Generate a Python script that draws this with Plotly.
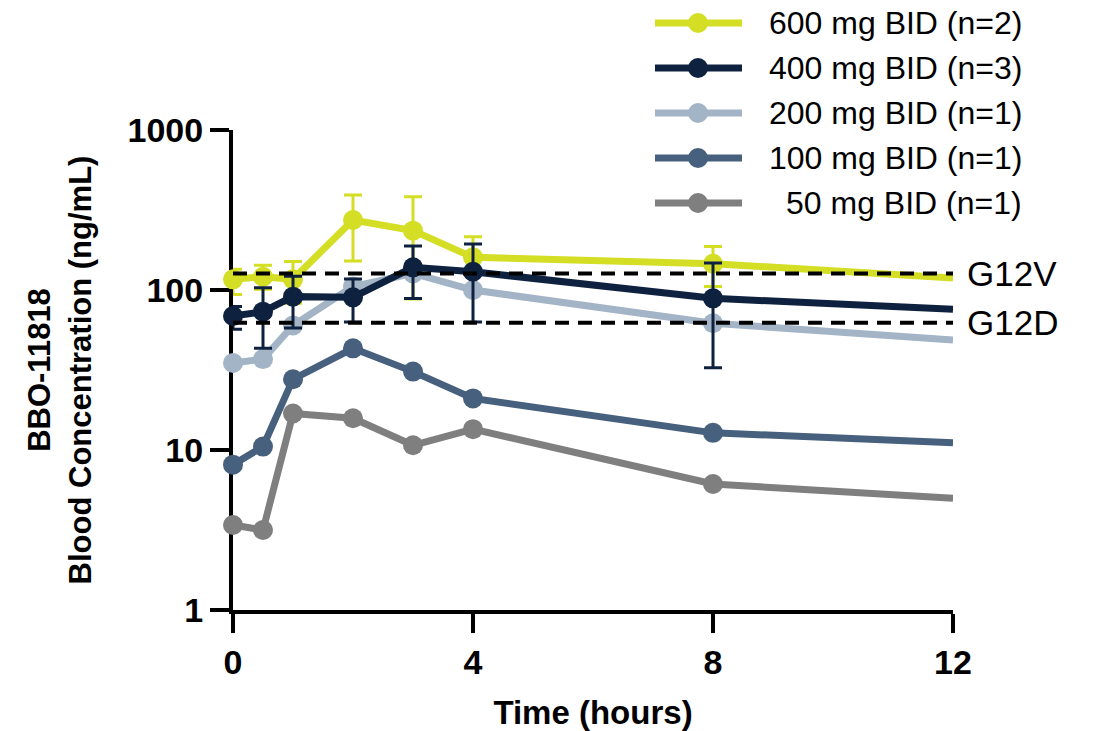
import math
import plotly.graph_objects as go

# ---------------- data ----------------
TIME = [0, 0.5, 1, 2, 3, 4, 8, 12]  # hours

DOSE_LABELS = ["600 mg BID (n=2)", "400 mg BID (n=3)", "200 mg BID (n=1)",
               "100 mg BID (n=1)", "50 mg BID (n=1)"]

CONC_600 = [116.6, 121, 116.6, 274, 235, 160, 146, 119]
ERR_600_PLUS = [18, 22, 34, 118, 148, 55, 41, None]
ERR_600_MINUS = [23, 20, 34, 122, 147, 55, 41, None]

CONC_400 = [68.8, 73.2, 90.9, 90, 138.6, 130, 88.7, 75.7]
ERR_400_PLUS = [10, 30, 31, 27, 50, 64, 59, None]
ERR_400_MINUS = [12, 30, 33, 27, 50, 67, 56, None]

CONC_200 = [35, 37, 60, 105, 127, 100, 62, 48.7]
CONC_100 = [8.1, 10.5, 27.7, 43.2, 30.9, 21.0, 12.8, 11.1]
CONC_50 = [3.4, 3.16, 16.9, 15.8, 10.7, 13.5, 6.13, 5.0]

G12V_IC = 127
G12D_IC = 62.5
THRESH_LABELS = ["G12V", "G12D"]

X_TICKS = [0, 4, 8, 12]
Y_TICKS = [1, 10, 100, 1000]

# ---------------- style ----------------
COL_600 = "#d4de24"
COL_400 = "#0e2240"
COL_200 = "#a2b4c6"
COL_100 = "#46607e"
COL_50 = "#7f7f7f"
FONT = "Arial, Liberation Sans, sans-serif"

W, H = 1099, 731
ML, MR, MT, MB = 233, 146, 130, 121
PW, PH = W - ML - MR, H - MT - MB

marker_sizes = [20] * (len(TIME) - 1) + [0]


def series(y, color, plus=None, minus=None):
    tr = go.Scatter(
        x=TIME, y=y, mode="lines+markers",
        line=dict(color=color, width=7),
        marker=dict(color=color, size=marker_sizes, opacity=1, line=dict(width=0)),
        cliponaxis=False, showlegend=False, hoverinfo="x+y",
    )
    if plus is not None:
        tr.error_y = dict(type="data", symmetric=False, array=plus, arrayminus=minus,
                          color=color, thickness=3, width=9)
    return tr


fig = go.Figure()
# draw order (bottom -> top)
fig.add_trace(series(CONC_50, COL_50))
fig.add_trace(series(CONC_100, COL_100))
fig.add_trace(series(CONC_600, COL_600, ERR_600_PLUS, ERR_600_MINUS))
fig.add_trace(series(CONC_200, COL_200))
fig.add_trace(series(CONC_400, COL_400, ERR_400_PLUS, ERR_400_MINUS))

for val in (G12V_IC, G12D_IC):
    fig.add_trace(go.Scatter(
        x=[TIME[0], TIME[-1]], y=[val, val], mode="lines",
        line=dict(color="black", width=4, dash="14px,9px"),
        showlegend=False, hoverinfo="skip", cliponaxis=False,
    ))

annotations = []
for lab, val in zip(THRESH_LABELS, (G12V_IC, G12D_IC)):
    annotations.append(dict(
        x=TIME[-1], y=math.log10(val), xref="x", yref="y",
        text=lab, showarrow=False, xanchor="left", yanchor="middle", xshift=12,
        font=dict(family=FONT, size=35, color="black"),
    ))

# custom legend (long line symbols like the original)
shapes = []
leg_colors = [COL_600, COL_400, COL_200, COL_100, COL_50]
for i, (lab, col) in enumerate(zip(DOSE_LABELS, leg_colors)):
    py = 23 + 45 * i
    yp = (H - MB - py) / PH
    shapes.append(dict(type="line", xref="paper", yref="paper",
                       x0=(655 - ML) / PW, x1=(742 - ML) / PW, y0=yp, y1=yp,
                       line=dict(color=col, width=7)))
    shapes.append(dict(type="circle", xref="paper", yref="paper",
                       xsizemode="pixel", ysizemode="pixel",
                       xanchor=(698 - ML) / PW, yanchor=yp,
                       x0=-10, x1=10, y0=-10, y1=10,
                       fillcolor=col, line=dict(width=0)))
    annotations.append(dict(
        x=(1024 - ML) / PW, y=yp, xref="paper", yref="paper",
        text=lab, showarrow=False, xanchor="right", yanchor="middle",
        font=dict(family=FONT, size=32, color="black"),
    ))

axis_common = dict(
    showline=True, linecolor="black", linewidth=4, mirror=False,
    ticks="outside", ticklen=19, tickwidth=4, tickcolor="black",
    showgrid=False, zeroline=False, layer="below traces",
    tickfont=dict(family=FONT, size=34, color="black", weight="bold"),
)

fig.update_layout(
    width=W, height=H,
    margin=dict(l=ML, r=MR, t=MT, b=MB, autoexpand=False),
    paper_bgcolor="white", plot_bgcolor="white",
    showlegend=False,
    xaxis=dict(range=[0, 12], tickvals=X_TICKS, **axis_common,
               title=dict(text="Time (hours)", standoff=22,
                          font=dict(family=FONT, size=33, color="black", weight="bold"))),
    yaxis=dict(type="log", range=[0, 3], tickvals=Y_TICKS,
               ticktext=[str(v) for v in Y_TICKS], **axis_common,
               title=dict(text="BBO-11818<br>Blood Concentration (ng/mL)", standoff=28,
                          font=dict(family=FONT, size=31, color="black", weight="bold"))),
    shapes=shapes,
    annotations=annotations,
)

fig.write_html("out.html")
